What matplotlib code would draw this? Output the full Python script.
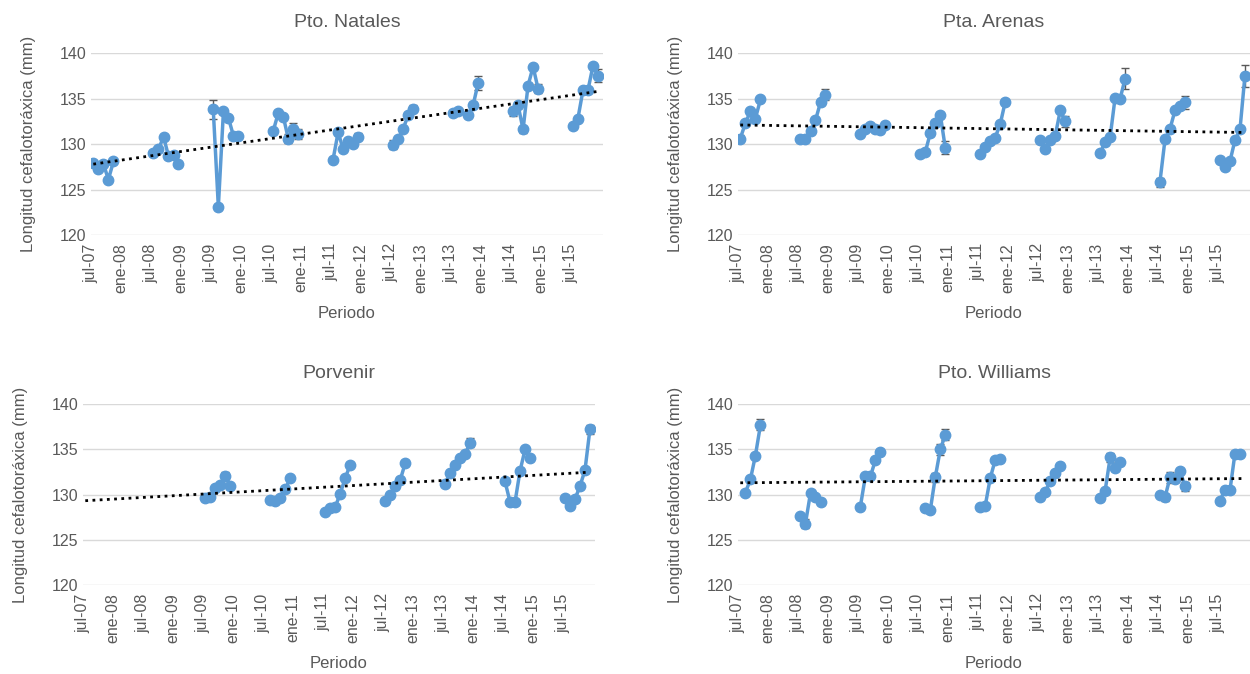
import numpy as np
import pandas as pd
import matplotlib
matplotlib.use('Agg')
import matplotlib.pyplot as plt
import matplotlib.dates as mdates

plt.rcParams['font.family'] = ['Liberation Sans', 'DejaVu Sans']

# ---------------------------- data ----------------------------------------
natales_fecha = ['2007-07', '2007-08', '2007-09', '2007-10', '2007-11',
                 '2008-07', '2008-08', '2008-09', '2008-10', '2008-11', '2008-12',
                 '2009-07', '2009-08', '2009-09', '2009-10', '2009-11', '2009-12',
                 '2010-07', '2010-08', '2010-09', '2010-10', '2010-11', '2010-12',
                 '2011-07', '2011-08', '2011-09', '2011-10', '2011-11', '2011-12',
                 '2012-07', '2012-08', '2012-09', '2012-10', '2012-11',
                 '2013-07', '2013-08', '2013-10', '2013-11', '2013-12',
                 '2014-07', '2014-08', '2014-09', '2014-10', '2014-11', '2014-12',
                 '2015-07', '2015-08', '2015-09', '2015-10', '2015-11', '2015-12']
natales_lc = [127.9, 127.3, 127.8, 126.1, 128.1,
              129.0, 129.4, 130.8, 128.7, 128.8, 127.8,
              133.8, 123.1, 133.6, 132.9, 130.9, 130.9,
              131.4, 133.4, 133.0, 130.6, 131.6, 131.1,
              128.3, 131.3, 129.4, 130.3, 130.0, 130.8,
              129.9, 130.6, 131.7, 133.2, 133.9,
              133.4, 133.6, 133.2, 134.3, 136.7,
              133.6, 134.3, 131.6, 136.4, 138.5, 136.1,
              132.0, 132.8, 135.9, 135.9, 138.6, 137.5]
natales_err = [0.4, 0.3, 0.3, 0.3, 0.3,
               0.3, 0.3, 0.3, 0.3, 0.3, 0.3,
               1.0, 0.3, 0.3, 0.3, 0.3, 0.3,
               0.3, 0.3, 0.3, 0.5, 0.7, 0.5,
               0.3, 0.3, 0.3, 0.3, 0.3, 0.4,
               0.5, 0.3, 0.3, 0.3, 0.4,
               0.3, 0.3, 0.3, 0.3, 0.8,
               0.5, 0.3, 0.4, 0.3, 0.3, 0.5,
               0.3, 0.3, 0.3, 0.3, 0.3, 0.7]

arenas_fecha = ['2007-07', '2007-08', '2007-09', '2007-10', '2007-11',
                '2008-07', '2008-08', '2008-09', '2008-10', '2008-11', '2008-12',
                '2009-07', '2009-08', '2009-09', '2009-10', '2009-11', '2009-12',
                '2010-07', '2010-08', '2010-09', '2010-10', '2010-11', '2010-12',
                '2011-07', '2011-08', '2011-09', '2011-10', '2011-11', '2011-12',
                '2012-07', '2012-08', '2012-09', '2012-10', '2012-11', '2012-12',
                '2013-07', '2013-08', '2013-09', '2013-10', '2013-11', '2013-12',
                '2014-07', '2014-08', '2014-09', '2014-10', '2014-11', '2014-12',
                '2015-07', '2015-08', '2015-09', '2015-10', '2015-11', '2015-12']
arenas_lc = [130.6, 132.3, 133.6, 132.8, 134.9,
             130.6, 130.6, 131.4, 132.6, 134.6, 135.4,
             131.1, 131.7, 132.0, 131.7, 131.5, 132.1,
             128.9, 129.1, 131.2, 132.3, 133.2, 129.6,
             128.9, 129.7, 130.3, 130.7, 132.2, 134.6,
             130.4, 129.5, 130.4, 130.9, 133.7, 132.5,
             129.0, 130.2, 130.8, 135.1, 135.0, 137.2,
             125.8, 130.5, 131.7, 133.7, 134.2, 134.6,
             128.2, 127.5, 128.1, 130.4, 131.6, 137.5]
arenas_err = [0.4, 0.3, 0.3, 0.3, 0.3,
              0.3, 0.3, 0.3, 0.3, 0.3, 0.6,
              0.3, 0.3, 0.3, 0.3, 0.3, 0.3,
              0.3, 0.3, 0.3, 0.3, 0.3, 0.7,
              0.3, 0.3, 0.3, 0.3, 0.3, 0.3,
              0.3, 0.3, 0.3, 0.3, 0.3, 0.6,
              0.3, 0.3, 0.3, 0.3, 0.3, 1.2,
              0.5, 0.3, 0.3, 0.3, 0.3, 0.7,
              0.3, 0.3, 0.3, 0.3, 0.3, 1.2]

porvenir_fecha = ['2009-07', '2009-08', '2009-09', '2009-10', '2009-11', '2009-12',
                  '2010-08', '2010-09', '2010-10', '2010-11', '2010-12',
                  '2011-07', '2011-08', '2011-09', '2011-10', '2011-11', '2011-12',
                  '2012-07', '2012-08', '2012-09', '2012-10', '2012-11',
                  '2013-07', '2013-08', '2013-09', '2013-10', '2013-11', '2013-12',
                  '2014-07', '2014-08', '2014-09', '2014-10', '2014-11', '2014-12',
                  '2015-07', '2015-08', '2015-09', '2015-10', '2015-11', '2015-12']
porvenir_lc = [129.6, 129.7, 130.7, 131.1, 132.1, 130.9,
               129.4, 129.3, 129.6, 130.6, 131.8,
               128.1, 128.5, 128.6, 130.1, 131.8, 133.3,
               129.3, 129.9, 130.9, 131.6, 133.5,
               131.2, 132.4, 133.3, 134.0, 134.5, 135.7,
               131.5, 129.2, 129.2, 132.6, 135.0, 134.0,
               129.6, 128.7, 129.5, 130.9, 132.7, 137.2]
porvenir_err = [0.3, 0.3, 0.3, 0.3, 0.4, 0.3,
                0.3, 0.3, 0.3, 0.3, 0.3,
                0.3, 0.3, 0.3, 0.3, 0.3, 0.3,
                0.3, 0.3, 0.3, 0.3, 0.3,
                0.3, 0.3, 0.3, 0.3, 0.3, 0.5,
                0.3, 0.3, 0.3, 0.3, 0.3, 0.3,
                0.3, 0.3, 0.3, 0.3, 0.3, 0.5]

williams_fecha = ['2007-08', '2007-09', '2007-10', '2007-11',
                  '2008-07', '2008-08', '2008-09', '2008-10', '2008-11',
                  '2009-07', '2009-08', '2009-09', '2009-10', '2009-11',
                  '2010-08', '2010-09', '2010-10', '2010-11', '2010-12',
                  '2011-07', '2011-08', '2011-09', '2011-10', '2011-11',
                  '2012-07', '2012-08', '2012-09', '2012-10', '2012-11',
                  '2013-07', '2013-08', '2013-09', '2013-10', '2013-11',
                  '2014-07', '2014-08', '2014-09', '2014-10', '2014-11', '2014-12',
                  '2015-07', '2015-08', '2015-09', '2015-10', '2015-11']
williams_lc = [130.2, 131.7, 134.3, 137.7,
               127.6, 126.8, 130.2, 129.7, 129.2,
               128.6, 132.0, 132.0, 133.8, 134.7,
               128.5, 128.3, 131.9, 135.0, 136.6,
               128.6, 128.7, 131.8, 133.8, 133.9,
               129.7, 130.3, 131.5, 132.4, 133.2,
               129.6, 130.4, 134.1, 132.9, 133.6,
               130.0, 129.7, 131.9, 131.7, 132.6, 130.9,
               129.3, 130.5, 130.5, 134.5, 134.5]
williams_err = [0.3, 0.3, 0.3, 0.6,
                0.3, 0.5, 0.3, 0.3, 0.3,
                0.3, 0.3, 0.3, 0.3, 0.3,
                0.3, 0.3, 0.5, 0.6, 0.6,
                0.3, 0.3, 0.3, 0.3, 0.3,
                0.3, 0.3, 0.3, 0.3, 0.3,
                0.3, 0.3, 0.5, 0.3, 0.3,
                0.3, 0.4, 0.6, 0.3, 0.3, 0.5,
                0.3, 0.3, 0.3, 0.3, 0.3]

titulos = ['Pto. Natales', 'Pta. Arenas', 'Porvenir', 'Pto. Williams']
ticks_x = ['2007-07', '2008-01', '2008-07', '2009-01', '2009-07', '2010-01',
           '2010-07', '2011-01', '2011-07', '2012-01', '2012-07', '2013-01',
           '2013-07', '2014-01', '2014-07', '2015-01', '2015-07']
etiquetas_x = ['jul-07', 'ene-08', 'jul-08', 'ene-09', 'jul-09', 'ene-10',
               'jul-10', 'ene-11', 'jul-11', 'ene-12', 'jul-12', 'ene-13',
               'jul-13', 'ene-14', 'jul-14', 'ene-15', 'jul-15']

series = [(natales_fecha, natales_lc, natales_err),
          (arenas_fecha, arenas_lc, arenas_err),
          (porvenir_fecha, porvenir_lc, porvenir_err),
          (williams_fecha, williams_lc, williams_err)]

# axes positions in figure fraction (left, bottom, width, height)
posiciones = [[0.0728, 0.6513, 0.4096, 0.270],
              [0.5904, 0.6513, 0.4096, 0.270],
              [0.0664, 0.1320, 0.4096, 0.2685],
              [0.5904, 0.1320, 0.4096, 0.2685]]

AZUL = '#5b9bd5'
GRIS = '#595959'

fig = plt.figure(figsize=(12.5, 6.74), dpi=100)

x_ini = pd.Timestamp('2007-07-01')
x_fin = pd.Timestamp('2016-01-15')

for titulo, pos, (fecha, lc, err) in zip(titulos, posiciones, series):
    ax = fig.add_axes(pos)
    df = pd.DataFrame({'fecha': pd.to_datetime(fecha) + pd.Timedelta(days=14),
                       'lc': lc, 'err': err})

    # error bars, then one line per sampling season (year)
    ax.errorbar(df['fecha'], df['lc'], yerr=df['err'], fmt='none',
                ecolor=GRIS, elinewidth=1, capsize=3, capthick=1, zorder=2)
    for anio, g in df.groupby(df['fecha'].dt.year):
        ax.plot(g['fecha'], g['lc'], color=AZUL, lw=2.5, marker='o',
                markersize=7.5, zorder=3)

    # linear trend (like Excel), over the whole period
    xnum = mdates.date2num(df['fecha'])
    m, b = np.polyfit(xnum, df['lc'], 1)
    xt = np.array([mdates.date2num(pd.Timestamp('2007-07-15')),
                   mdates.date2num(pd.Timestamp('2015-12-15'))])
    ax.plot(mdates.num2date(xt), m * xt + b, color='black', lw=2,
            linestyle=(0, (1, 1.6)), zorder=4)

    ax.set_xlim(x_ini, x_fin)
    ax.set_ylim(120, 140)
    ax.set_yticks([120, 125, 130, 135, 140])
    ax.set_xticks(pd.to_datetime(ticks_x))
    ax.set_xticklabels(etiquetas_x, rotation=90)
    ax.tick_params(axis='both', length=0, colors=GRIS, labelsize=11.5)
    ax.tick_params(axis='x', pad=6)
    ax.grid(axis='y', color='#d9d9d9', lw=1)
    ax.set_axisbelow(True)
    for s in ax.spines.values():
        s.set_visible(False)

    ax.set_title(titulo, fontsize=14, color=GRIS, pad=19)
    ax.set_xlabel('Periodo', fontsize=12, color=GRIS, labelpad=9)
    ax.set_ylabel('Longitud cefalotoráxica (mm)', fontsize=12, color=GRIS,
                  labelpad=17)

plt.savefig('out.png', dpi=100)
